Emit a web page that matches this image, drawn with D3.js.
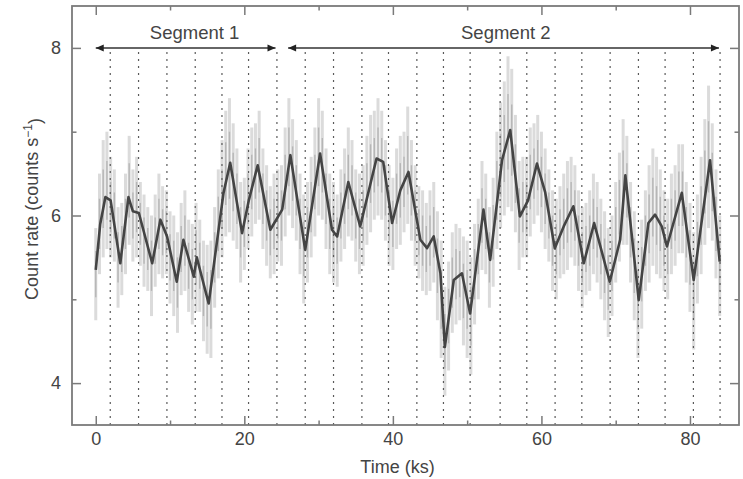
<!DOCTYPE html>
<html><head><meta charset="utf-8">
<script src="https://cdn.jsdelivr.net/npm/d3@7"></script>
<style>
body{margin:0;background:#fff}
text{font-family:"Liberation Sans",Arial,Helvetica,sans-serif;fill:#444}
</style>
</head><body>
<svg id="chart" width="743" height="479"></svg>
<script>
// ---- data ----
const smoothT = [0,0.6,1.3,2.0,3.3,4.4,5.0,5.8,7.6,8.7,9.6,10.9,11.8,13.2,13.6,15.2,17.2,18.1,19.7,20.6,21.8,23.5,25.1,26.2,28.2,30.2,31.8,32.5,34.0,35.6,37.8,38.7,39.9,41.0,42.1,43.7,44.6,45.5,46.4,47.0,48.2,49.3,50.4,52.2,53.1,54.7,55.8,57.1,58.2,59.4,60.5,61.8,63.0,64.3,65.7,67.1,69.2,70.6,71.3,73.1,74.4,75.3,76.2,76.9,78.9,80.5,82.7,84.0];
const smoothV = [5.35,5.9,6.22,6.18,5.43,6.22,6.05,6.03,5.43,5.95,5.75,5.21,5.71,5.27,5.5,4.95,6.27,6.63,5.79,6.18,6.6,5.83,6.07,6.72,5.59,6.74,5.83,5.75,6.40,5.87,6.68,6.64,5.91,6.30,6.52,5.71,5.61,5.75,5.31,4.43,5.23,5.31,4.83,6.07,5.47,6.66,7.02,5.99,6.18,6.62,6.28,5.61,5.87,6.11,5.43,5.91,5.21,5.71,6.48,4.99,5.91,6.01,5.87,5.63,6.27,5.23,6.66,5.45];

const rawT = [0,0.5,1,1.5,2,2.5,3,3.5,4,4.5,5,5.5,6,6.5,7,7.5,8,8.5,9,9.5,
10,10.5,11,11.5,12,12.5,13,13.5,14,14.5,15,15.5,16,16.5,17,17.5,18,18.5,19,19.5,
20,20.5,21,21.5,22,22.5,23,23.5,24,24.5,25,25.5,26,26.5,27,27.5,28,28.5,29,29.5,
30,30.5,31,31.5,32,32.5,33,33.5,34,34.5,35,35.5,36,36.5,37,37.5,38,38.5,39,39.5,
40,40.5,41,41.5,42,42.5,43,43.5,44,44.5,45,45.5,46,46.5,47,47.5,48,48.5,49,49.5,
50,50.5,51,51.5,52,52.5,53,53.5,54,54.5,55,55.5,56,56.5,57,57.5,58,58.5,59,59.5,
60,60.5,61,61.5,62,62.5,63,63.5,64,64.5,65,65.5,66,66.5,67,67.5,68,68.5,69,69.5,
70,70.5,71,71.5,72,72.5,73,73.5,74,74.5,75,75.5,76,76.5,77,77.5,78,78.5,79,79.5,
80,80.5,81,81.5,82,82.5,83,83.5,84];
const rawV = [5.3,5.9,6.2,6.3,6.1,6.0,5.5,5.6,5.9,6.3,6.0,6.1,5.9,5.7,5.6,5.4,5.7,5.9,5.8,5.8,
5.5,5.4,5.2,5.6,5.7,5.4,5.3,5.5,5.4,5.1,5.0,5.0,5.5,5.9,6.2,6.5,6.6,6.4,6.2,5.8,
5.9,6.2,6.4,6.5,6.6,6.2,6.0,5.8,5.9,6.0,6.0,6.4,6.7,6.5,6.3,5.9,5.6,5.8,6.1,6.4,
6.7,6.6,6.2,5.9,5.8,5.7,6.0,6.2,6.4,6.3,6.0,5.9,6.0,6.3,6.5,6.6,6.7,6.6,6.3,6.0,
5.9,6.2,6.3,6.4,6.6,6.3,6.0,5.8,5.7,5.6,5.7,5.8,5.4,5.0,4.5,4.8,5.2,5.3,5.3,5.1,
5.0,4.8,5.3,5.6,6.0,5.9,5.5,5.8,6.3,6.6,6.8,7.0,6.9,6.5,6.0,6.1,6.1,6.4,6.5,6.6,
6.4,6.2,6.0,5.7,5.6,5.8,5.9,6.0,6.1,6.0,5.7,5.5,5.6,5.7,5.9,5.8,5.6,5.4,5.2,5.4,
5.8,6.1,6.4,6.3,5.8,5.4,5.0,5.3,5.7,5.9,6.1,6.0,5.9,5.7,5.6,5.9,6.0,6.2,6.2,5.8,
5.5,5.1,5.6,6.0,6.4,6.7,6.4,5.9,5.4];
const rawE = [.55,.6,.7,.7,.6,.55,.6,.55,.6,.65,.55,.6,.5,.55,.5,.6,.55,.6,.55,.5,
.55,.6,.6,.55,.6,.55,.6,.65,.55,.6,.65,.7,.6,.65,.7,.75,.8,.7,.6,.6,
.55,.6,.65,.6,.65,.6,.6,.55,.6,.55,.6,.65,.7,.65,.6,.6,.65,.6,.6,.65,
.7,.65,.6,.6,.6,.55,.55,.6,.65,.6,.55,.6,.6,.65,.7,.65,.7,.65,.6,.6,
.55,.6,.65,.6,.7,.6,.6,.55,.6,.55,.6,.6,.65,.7,.65,.65,.6,.6,.55,.65,
.7,.7,.6,.6,.65,.6,.6,.65,.7,.75,.8,.9,.85,.7,.65,.6,.6,.65,.6,.6,
.6,.6,.55,.6,.6,.55,.6,.65,.6,.6,.6,.6,.55,.6,.6,.6,.6,.65,.65,.6,
.6,.65,.75,.65,.6,.65,.7,.65,.6,.7,.7,.7,.65,.6,.6,.6,.6,.65,.65,.6,
.65,.7,.65,.7,.75,.85,.7,.65,.6];

const dividerT = [1.95,5.76,9.58,13.39,16.99,20.57,24.39,28.20,32.01,35.83,39.41,43.23,46.81,50.40,54.44,58.03,61.84,65.44,69.25,73.06,76.65,80.46,84.05];

const segNames = ["Segment 1","Segment 2"];
const segStart = [0, 25.9];
const segEnd = [24.2, 83.9];
const segLabelT = [13.3, 55.2];
const segLevel = 8;

const xMajor = [0,20,40,60,80];
const xMinor = [10,30,50,70];
const yMajor = [4,6,8];
const yMinor = [5,7];
const xTitle = "Time (ks)";

// ---- layout ----
const svg = d3.select("#chart");
const L = 72, R = 739, T = 6, B = 425;
const x = d3.scaleLinear().domain([-3.2, 86.6]).range([L, R]);
const y = d3.scaleLinear().domain([3.5, 8.5]).range([B, T]);

// error bars (raw light curve)
const raw = d3.zip(rawT, rawV, rawE);
const eb = svg.append("g");
eb.selectAll("line.w").data(raw).join("line").attr("class","w")
  .attr("x1", d => x(d[0])).attr("x2", d => x(d[0]))
  .attr("y1", d => y(d[1] - d[2])).attr("y2", d => y(d[1] + d[2]))
  .attr("stroke", "#b0b0b0").attr("stroke-width", 3).attr("stroke-opacity", 0.45);
eb.selectAll("line.c").data(raw).join("line").attr("class","c")
  .attr("x1", d => x(d[0])).attr("x2", d => x(d[0]))
  .attr("y1", d => y(d[1] - d[2] * 0.5)).attr("y2", d => y(d[1] + d[2] * 0.5))
  .attr("stroke", "#8a8a8a").attr("stroke-width", 1.4).attr("stroke-opacity", 0.45);

// dotted dividers
svg.append("g").selectAll("line").data(dividerT).join("line")
  .attr("x1", d => x(d)).attr("x2", d => x(d))
  .attr("y1", y(segLevel) + 4).attr("y2", B)
  .attr("stroke", "#5a5a5a").attr("stroke-width", 1.2).attr("stroke-dasharray", "2,5");

// smoothed line
const smooth = d3.zip(smoothT, smoothV);
svg.append("path").datum(smooth)
  .attr("fill", "none").attr("stroke", "#444").attr("stroke-width", 2.6)
  .attr("stroke-linejoin", "round")
  .attr("d", d3.line().x(d => x(d[0])).y(d => y(d[1])));

// axes (inward ticks)
const axisCol = "#7a7a7a";
function styleAxis(g){
  g.select(".domain").remove();
  g.selectAll(".tick line").attr("stroke", axisCol).attr("stroke-width", 1.5);
  g.selectAll(".tick text").attr("fill", "#444").style("font-size", "18px")
   .style("font-family", '"Liberation Sans",Arial,sans-serif');
}
const fmt = d3.format("d");
svg.append("g").attr("transform", `translate(0,${B})`)
  .call(d3.axisBottom(x).tickValues(xMajor).tickSize(-9).tickPadding(7).tickFormat(fmt)).call(styleAxis);
svg.append("g").attr("transform", `translate(0,${B})`)
  .call(d3.axisBottom(x).tickValues(xMinor).tickSize(-4.5).tickFormat("")).call(styleAxis);
svg.append("g").attr("transform", `translate(0,${T})`)
  .call(d3.axisTop(x).tickValues(xMajor).tickSize(-9).tickFormat("")).call(styleAxis);
svg.append("g").attr("transform", `translate(0,${T})`)
  .call(d3.axisTop(x).tickValues(xMinor).tickSize(-4.5).tickFormat("")).call(styleAxis);
svg.append("g").attr("transform", `translate(${L},0)`)
  .call(d3.axisLeft(y).tickValues(yMajor).tickSize(-9).tickPadding(11).tickFormat(fmt)).call(styleAxis);
svg.append("g").attr("transform", `translate(${L},0)`)
  .call(d3.axisLeft(y).tickValues(yMinor).tickSize(-4.5).tickFormat("")).call(styleAxis);
svg.append("g").attr("transform", `translate(${R},0)`)
  .call(d3.axisRight(y).tickValues(yMajor).tickSize(-9).tickFormat("")).call(styleAxis);
svg.append("g").attr("transform", `translate(${R},0)`)
  .call(d3.axisRight(y).tickValues(yMinor).tickSize(-4.5).tickFormat("")).call(styleAxis);

// frame
svg.append("rect").attr("x", L).attr("y", T).attr("width", R - L).attr("height", B - T)
  .attr("fill", "none").attr("stroke", axisCol).attr("stroke-width", 1.8);

// segment arrows
const segs = d3.range(segNames.length).map(i => ({name: segNames[i], s: segStart[i], e: segEnd[i], lx: segLabelT[i]}));
const ay = y(segLevel);
const ag = svg.append("g");
ag.selectAll("line").data(segs).join("line")
  .attr("x1", d => x(d.s)).attr("x2", d => x(d.e)).attr("y1", ay).attr("y2", ay)
  .attr("stroke", "#333").attr("stroke-width", 1.5);
function head(px, dir){ // dir -1 left, +1 right
  return `M${px},${ay} L${px - dir*8},${ay-3.5} L${px - dir*8},${ay+3.5} Z`;
}
ag.selectAll("path.l").data(segs).join("path").attr("class","l")
  .attr("d", d => head(x(d.s), -1)).attr("fill", "#222");
ag.selectAll("path.r").data(segs).join("path").attr("class","r")
  .attr("d", d => head(x(d.e), 1)).attr("fill", "#222");
ag.selectAll("text").data(segs).join("text")
  .attr("x", d => x(d.lx)).attr("y", 39).attr("text-anchor", "middle")
  .style("font-size", "18.5px").text(d => d.name);

// axis titles
svg.append("text").attr("x", (L + R) / 2 - 8).attr("y", 473)
  .attr("text-anchor", "middle").style("font-size", "18px").text(xTitle);
const yt = svg.append("text").attr("transform", "translate(31.5,209) rotate(-90)")
  .attr("text-anchor", "middle").attr("dy", "0.35em").style("font-size", "18px");
yt.append("tspan").text("Count rate (counts s");
yt.append("tspan").attr("dy", "-0.45em").style("font-size", "12px").text("\u22121");
yt.append("tspan").attr("dy", "0.45em").text(")");
</script>
</body></html>
